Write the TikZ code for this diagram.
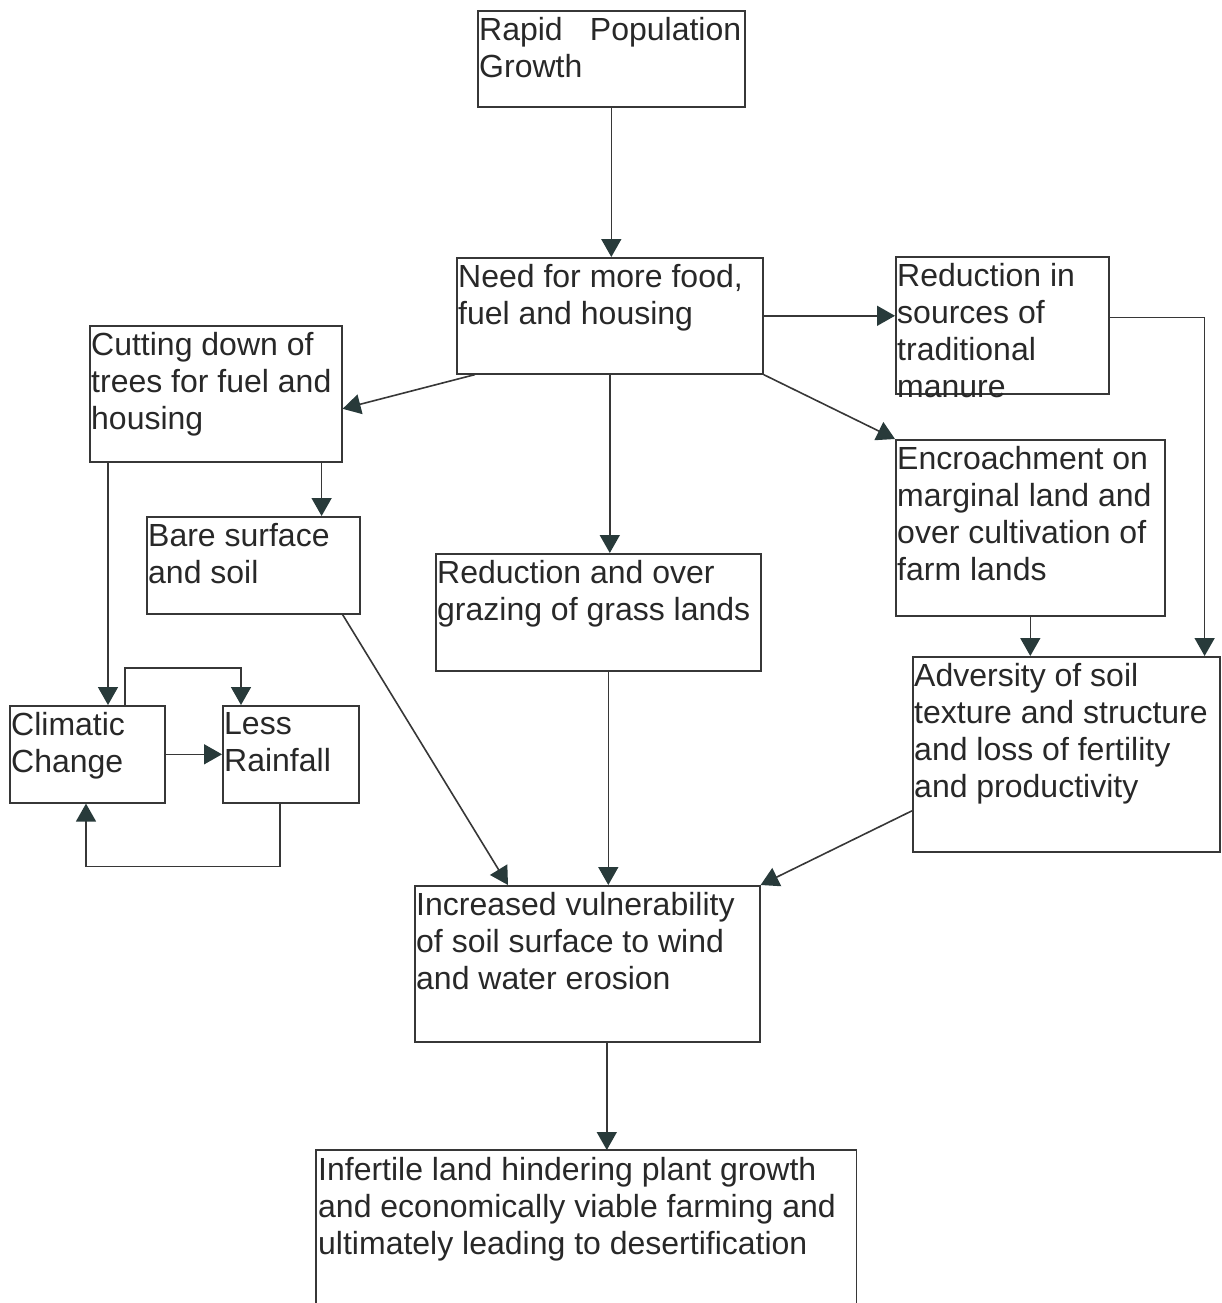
\documentclass[tikz,border=0pt]{standalone}
\usepackage{fontspec}
\setmainfont{Liberation Sans}
\usetikzlibrary{arrows.meta}
\definecolor{ln}{RGB}{55,55,55}
\definecolor{tx}{RGB}{40,40,40}
\definecolor{hd}{RGB}{40,58,58}
\begin{document}
\begin{tikzpicture}[x=1pt,y=-1pt,
  box/.style={draw=ln, line width=1.6pt, rectangle, anchor=north west, inner sep=0pt},
  txt/.style={anchor=north west, align=left, text=tx, inner xsep=2pt, inner ysep=7pt, font=\fontsize{32}{37}\selectfont},
  arr/.style={draw=ln, line width=1.6pt, -{Triangle[length=18pt,width=20pt,color=hd]}},
  lin/.style={draw=ln, line width=1.6pt}]
\useasboundingbox (0,0) rectangle (1221,1303);
% boxes
\node[box, minimum width=267pt, minimum height=96pt] (rpg) at (477,10) {};
\node[box, minimum width=306pt, minimum height=116pt] (need) at (456,257) {};
\node[box, minimum width=213pt, minimum height=137pt] (redsrc) at (895,256) {};
\node[box, minimum width=252pt, minimum height=136pt] (cut) at (89,325) {};
\node[box, minimum width=269pt, minimum height=176pt] (encr) at (895,439) {};
\node[box, minimum width=213pt, minimum height=97pt] (bare) at (146,516) {};
\node[box, minimum width=325pt, minimum height=117pt] (graz) at (435,553) {};
\node[box, minimum width=307pt, minimum height=195pt] (adv) at (912,656) {};
\node[box, minimum width=155pt, minimum height=97pt] (clim) at (9,705) {};
\node[box, minimum width=136pt, minimum height=97pt] (less) at (222,705) {};
\node[box, minimum width=345pt, minimum height=156pt] (incr) at (414,885) {};
\node[box, draw=none, minimum width=539pt, minimum height=153pt] (inf) at (316,1150) {};
\draw[lin] (inf.south west) -- (inf.north west) -- (inf.north east) -- (inf.south east);
% texts
\node[txt] (rpgt) at (rpg.north west) {\hbox to 262pt{Rapid\hfill Population}\\Growth};
\node[txt] (needt) at (need.north west) {Need for more food,\\fuel and housing};
\node[txt] (redsrct) at (redsrc.north west) {Reduction in\\sources of\\traditional\\manure};
\node[txt] (cutt) at (cut.north west) {Cutting down of\\trees for fuel and\\housing};
\node[txt] (encrt) at (encr.north west) {Encroachment on\\marginal land and\\over cultivation of\\farm lands};
\node[txt] (baret) at (bare.north west) {Bare surface\\and soil};
\node[txt] (grazt) at (graz.north west) {Reduction and over\\grazing of grass lands};
\node[txt] (advt) at (adv.north west) {Adversity of soil\\texture and structure\\and loss of fertility\\and productivity};
\node[txt] (climt) at (clim.north west) {Climatic\\Change};
\node[txt] (lesst) at (less.north west) {Less\\Rainfall};
\node[txt] (incrt) at (incr.north west) {Increased vulnerability\\of soil surface to wind\\and water erosion};
\node[txt] (inft) at (inf.north west) {Infertile land hindering plant growth\\and economically viable farming and\\ultimately leading to desertification};
% connectors
\draw[arr] (rpg.south) -- (rpg.south |- need.north);
\draw[arr] (need.east) -- (need.east -| redsrc.west);
\draw[arr] ([xshift=19pt]need.south west) -- ([yshift=-15pt]cut.east);
\draw[arr] (need.south) -- (need.south |- graz.north);
\draw[arr] (need.south east) -- (encr.north west);
\draw[arr] ([yshift=8pt]redsrc.east) -| ([xshift=-16pt]adv.north east);
\draw[arr] (encr.south) -- (encr.south |- adv.north);
\draw[arr] ([xshift=19pt]cut.south west) -- ([xshift=19pt]cut.south west |- clim.north);
\draw[arr] ([xshift=-21pt]cut.south east) -- ([xshift=-21pt]cut.south east |- bare.north);
\draw[arr] ([xshift=116pt]clim.north west) -- ++(0,-37) -| ([xshift=19pt]less.north west);
\draw[arr] (clim.east) -- (clim.east -| less.west);
\draw[arr] ([xshift=58pt]less.south west) -- ++(0,63) -| ([xshift=77pt]clim.south west);
\draw[arr] ([xshift=-18pt]bare.south east) -- ([xshift=94pt]incr.north west);
\draw[arr] ([xshift=10pt]graz.south) -- ([xshift=10pt]graz.south |- incr.north);
\draw[arr] ([yshift=-56.5pt]adv.west) -- (incr.north east);
\draw[arr] ([xshift=19.5pt]incr.south) -- ([xshift=19.5pt]incr.south |- inf.north);
\end{tikzpicture}
\end{document}
